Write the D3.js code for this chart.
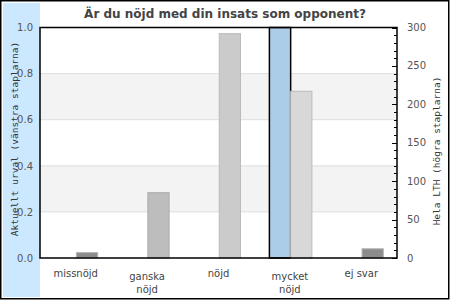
<!DOCTYPE html>
<html>
<head>
<meta charset="utf-8">
<script src="https://cdn.jsdelivr.net/npm/d3@7"></script>
<style>
body { margin: 0; background: #fff; }
svg { display: block; }
</style>
</head>
<body>
<script>
// データ
var categories = ["missnöjd", "ganska nöjd", "nöjd", "mycket nöjd", "ej svar"];
var categoryLines = [["missnöjd"], ["ganska", "nöjd"], ["nöjd"], ["mycket", "nöjd"], ["ej svar"]];
var leftValues = [0, 0, 0, 1, 0];          // Aktuellt urval
var rightValues = [7, 85, 292, 217, 12];   // Hela LTH
var leftTicks = [0, 0.2, 0.4, 0.6, 0.8, 1.0];
var rightTicks = [0, 50, 100, 150, 200, 250, 300];

// 色
var rightFill = ["#8c8c8c", "#bdbdbd", "#cbcbcb", "#d8d8d8", "#8c8c8c"];
var rightStroke = ["#b2b2b2", "#ababab", "#bbbbbb", "#bbbbbb", "#b2b2b2"];

var W = 450, H = 300;
var margin = {left: 40, right: 53, top: 27.5, bottom: 42};
var x0 = margin.left, x1 = W - margin.right;
var yTop = margin.top, yBot = H - margin.bottom;

var svg = d3.select("body").append("svg")
	.attr("width", W)
	.attr("height", H)
	.style("font-family", "'DejaVu Sans', sans-serif");

// 外枠と左の青い帯
svg.append("rect")
	.attr("x", 3).attr("y", 3).attr("width", x0 - 3).attr("height", H - 6)
	.attr("fill", "#cce8ff");
svg.append("rect")
	.attr("x", 0.75).attr("y", 0.75).attr("width", W - 2).attr("height", H - 2)
	.attr("fill", "none").attr("stroke", "#000").attr("stroke-width", 1.5);

// スケール
var xScale = d3.scaleBand().domain(categories).range([x0, x1]);
var bw = xScale.bandwidth();
var sub = d3.scaleBand().domain(["left", "right"]).range([bw / 2 - 20.5, bw / 2 + 22]);
var yLeft = d3.scaleLinear().domain([0, 1]).range([yBot, yTop]);
var yRight = d3.scaleLinear().domain([0, 300]).range([yBot, yTop]);

// 背景の縞模様とグリッド
var bands = [[0.2, 0.4], [0.6, 0.8]];
svg.append("g").selectAll("rect").data(bands).enter().append("rect")
	.attr("x", x0).attr("width", x1 - x0)
	.attr("y", function(d){ return yLeft(d[1]); })
	.attr("height", function(d){ return yLeft(d[0]) - yLeft(d[1]); })
	.attr("fill", "#f3f3f3");
svg.append("g").selectAll("line").data(leftTicks.slice(1, -1)).enter().append("line")
	.attr("x1", x0).attr("x2", x1)
	.attr("y1", function(d){ return yLeft(d); })
	.attr("y2", function(d){ return yLeft(d); })
	.attr("stroke", "#dedede").attr("stroke-width", 1);

// 棒グラフ
var g = svg.append("g");
categories.forEach(function(c, i){
	var gx = xScale(c);
	if(leftValues[i] > 0){
		g.append("rect")
			.attr("x", gx + sub("left")).attr("width", sub.bandwidth())
			.attr("y", yLeft(leftValues[i])).attr("height", yBot - yLeft(leftValues[i]))
			.attr("fill", "#abcde8").attr("stroke", "#000").attr("stroke-width", 1.5);
	}
	g.append("rect")
		.attr("x", gx + sub("right")).attr("width", sub.bandwidth())
		.attr("y", yRight(rightValues[i])).attr("height", yBot - yRight(rightValues[i]))
		.attr("fill", rightFill[i]).attr("stroke", rightStroke[i]).attr("stroke-width", 1);
});

// 左軸
var leftAxis = d3.axisLeft(yLeft).tickValues(leftTicks).tickSize(0).tickPadding(7)
	.tickFormat(d3.format(".1f"));
var la = svg.append("g").attr("transform", "translate(" + x0 + ",0)").call(leftAxis);
la.select(".domain").remove();
la.selectAll("text").attr("font-size", 10).attr("fill", "#555")
	.attr("font-family", "'DejaVu Sans', sans-serif");

// 右軸(目盛は内側)
var minor = d3.range(0, 301, 10);
svg.append("g").selectAll("line").data(minor).enter().append("line")
	.attr("x1", x1).attr("x2", function(d){ return x1 - (d % 50 === 0 ? 5 : 3); })
	.attr("y1", function(d){ return Math.round(yRight(d)) + 0.5; })
	.attr("y2", function(d){ return Math.round(yRight(d)) + 0.5; })
	.attr("stroke", "#000").attr("stroke-width", 1);
svg.append("g").selectAll("text").data(rightTicks).enter().append("text")
	.attr("x", x1 + 10)
	.attr("y", function(d){ return yRight(d); })
	.attr("dy", "0.35em")
	.attr("font-size", 10).attr("fill", "#555")
	.text(function(d){ return d; });

// 枠
svg.append("rect")
	.attr("x", x0).attr("y", yTop).attr("width", x1 - x0).attr("height", yBot - yTop)
	.attr("fill", "none").attr("stroke", "#000").attr("stroke-width", 1.5);

// カテゴリーラベル
categories.forEach(function(c, i){
	var lines = categoryLines[i];
	var cx = xScale(c) + bw / 2;
	var t = svg.append("text")
		.attr("x", cx)
		.attr("y", lines.length > 1 ? 280 : 277)
		.attr("text-anchor", "middle")
		.attr("font-size", 10).attr("fill", "#444");
	lines.forEach(function(w, j){
		t.append("tspan").attr("x", cx).attr("dy", j === 0 ? 0 : 12.5).text(w);
	});
});

// タイトル
svg.append("text")
	.attr("x", 225).attr("y", 18)
	.attr("text-anchor", "middle")
	.attr("font-size", 12).attr("font-weight", "bold").attr("fill", "#444")
	.text("Är du nöjd med din insats som opponent?");

// 軸タイトル
svg.append("text")
	.attr("transform", "translate(18,139) rotate(-90)")
	.attr("text-anchor", "middle")
	.attr("font-family", "'DejaVu Sans Mono', monospace")
	.attr("font-size", 9.5).attr("fill", "#333")
	.text("Aktuellt urval (vänstra staplarna)");
svg.append("text")
	.attr("transform", "translate(440,151) rotate(-90)")
	.attr("text-anchor", "middle")
	.attr("font-family", "'DejaVu Sans Mono', monospace")
	.attr("font-size", 9.5).attr("fill", "#333")
	.text("Hela LTH (högra staplarna)");
</script>
</body>
</html>
